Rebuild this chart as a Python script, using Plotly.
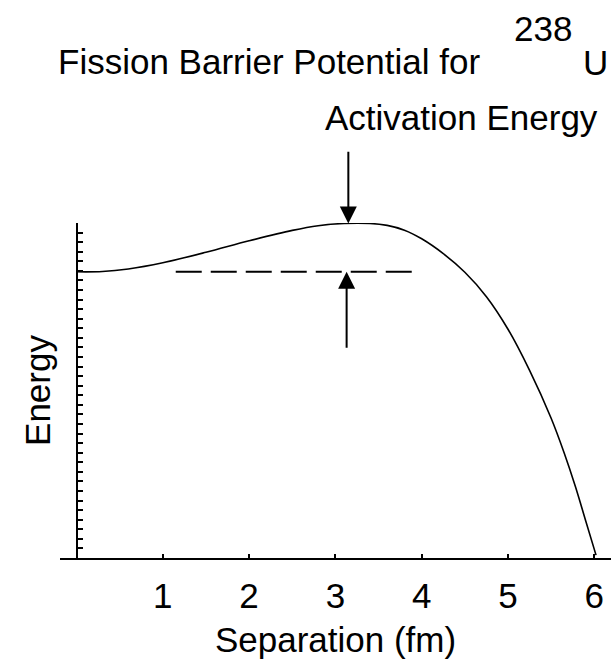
import plotly.graph_objects as go

# Curve data (separation in fm, energy in arbitrary units)
separation = [0.0, 0.3, 0.6, 1.0, 1.5, 2.0, 2.5, 2.8, 3.1, 3.4, 3.6, 3.8, 4.0, 4.25,
              4.5, 4.75, 5.0, 5.25, 5.5, 5.65, 5.78, 5.9, 6.02]
energy = [29.9, 29.93, 30.2, 30.85, 31.94, 33.14, 34.23, 34.72, 34.95, 34.95, 34.75,
          34.25, 33.35, 31.8, 29.85, 27.3, 23.9, 19.6, 14.6, 11.0, 7.5, 3.9, 0.3]

# Ground-state level (dashed)
ground_x = [1.15, 3.96]
ground_y = [29.9, 29.9]

# Arrows for activation energy
arrow_x = 3.15
arrow_down = (42.6, 34.95)   # from, to
arrow_up = (21.8, 29.9)      # from, to

x_ticks = [1, 2, 3, 4, 5, 6]
x_ticklabels = ["1", "2", "3", "4", "5", "6"]

FONT = "Liberation Sans, Arial, Helvetica, sans-serif"
FS = 35

W, H = 611, 659
L, R, T, B = 60, 0, 223, 99
PW = W - L - R
PH = H - T - B


def px(xp):
    return (xp - L) / PW


def py(yp):
    return (H - B - yp) / PH


fig = go.Figure()
fig.add_trace(go.Scatter(x=separation, y=energy, mode="lines",
                         line=dict(color="black", width=1.6, shape="spline", smoothing=1.0),
                         hoverinfo="skip", showlegend=False))
fig.add_trace(go.Scatter(x=ground_x, y=ground_y, mode="lines",
                         line=dict(color="black", width=2, dash="26px,9px"),
                         hoverinfo="skip", showlegend=False))

annotations = [
    dict(x=arrow_x, y=arrow_down[1], ax=arrow_x, ay=arrow_down[0], xref="x", yref="y",
         axref="x", ayref="y", text="", showarrow=True, arrowhead=2, arrowsize=1.7,
         arrowwidth=2, arrowcolor="black"),
    dict(x=arrow_x - 0.02, y=arrow_up[1], ax=arrow_x - 0.02, ay=arrow_up[0], xref="x", yref="y",
         axref="x", ayref="y", text="", showarrow=True, arrowhead=2, arrowsize=1.7,
         arrowwidth=2, arrowcolor="black"),
    dict(x=px(512), y=py(27.5), xref="paper", yref="paper", text="238", showarrow=False,
         xanchor="left", yanchor="middle", font=dict(family=FONT, size=FS, color="black")),
    dict(x=px(581), y=py(62), xref="paper", yref="paper", text="U", showarrow=False,
         xanchor="left", yanchor="middle", font=dict(family=FONT, size=FS, color="black")),
    dict(x=px(323), y=py(117), xref="paper", yref="paper", text="Activation Energy",
         showarrow=False, xanchor="left", yanchor="middle",
         font=dict(family=FONT, size=FS, color="black")),
]

fig.update_layout(
    width=W, height=H,
    margin=dict(l=L, r=R, t=T, b=B, pad=0),
    paper_bgcolor="white", plot_bgcolor="white",
    font=dict(family=FONT, size=FS, color="black"),
    title=dict(text="Fission Barrier Potential for", x=58 / W, xref="container",
               xanchor="left", y=1 - 61.5 / H, yref="container", yanchor="middle",
               font=dict(family=FONT, size=FS, color="black")),
    showlegend=False,
    annotations=annotations,
    xaxis=dict(range=[-16.5 / 86.3, (W - 76.5) / 86.3], showgrid=False, zeroline=False,
               showline=True, linecolor="black", linewidth=2,
               tickmode="array", tickvals=x_ticks, ticktext=x_ticklabels,
               ticks="inside", ticklen=4, tickwidth=2, tickcolor="black",
               tickfont=dict(family=FONT, size=FS, color="black"),
               ticklabelstandoff=6,
               title=dict(text="Separation (fm)", standoff=19,
                          font=dict(family=FONT, size=FS, color="black"))),
    yaxis=dict(range=[0, 35], showgrid=False, zeroline=False, anchor="free",
               position=(76.5 - L) / PW,
               showline=True, linecolor="black", linewidth=2,
               tickmode="linear", tick0=0, dtick=1,
               ticks="inside", ticklen=5, tickwidth=2, tickcolor="black",
               showticklabels=False,
               title=dict(text="Energy", standoff=13,
                          font=dict(family=FONT, size=FS, color="black"))),
)

fig.write_html("out.html")
